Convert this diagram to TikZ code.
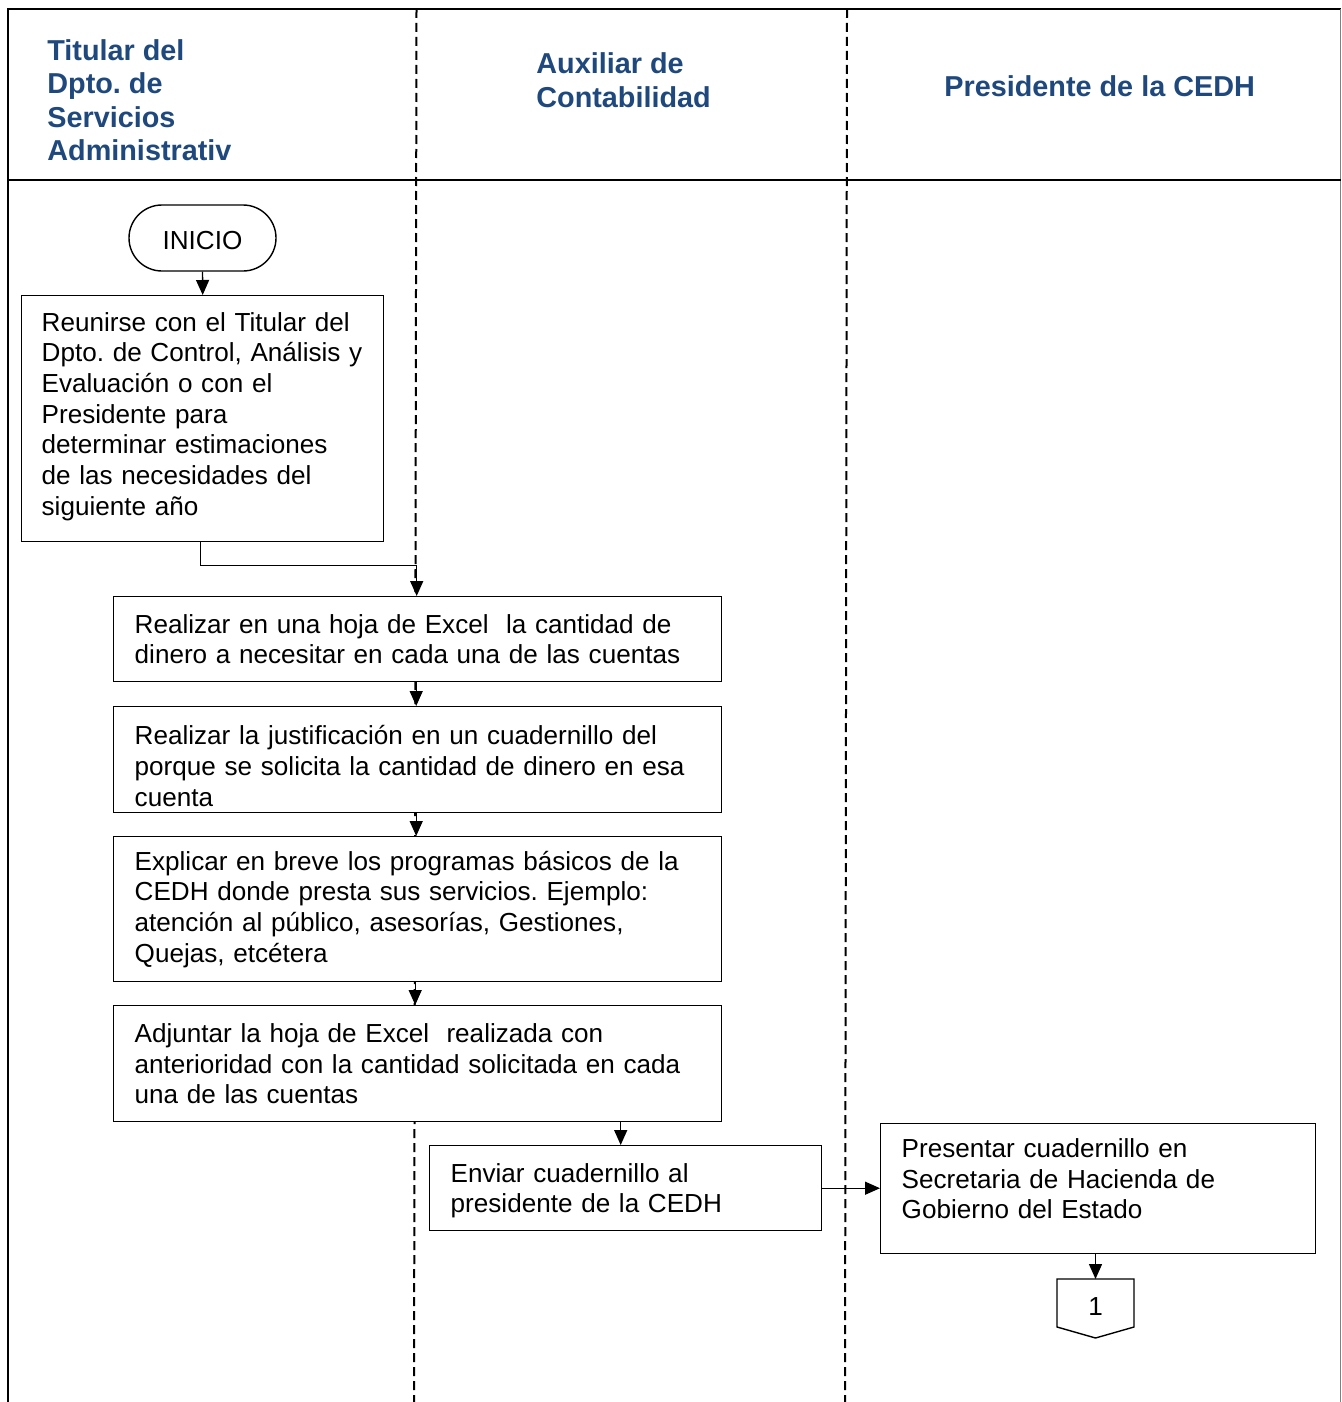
\documentclass[tikz,border=0pt]{standalone}
\usepackage{fontspec}
\setmainfont{Liberation Sans}
\frenchspacing
\usetikzlibrary{arrows.meta,calc}
\definecolor{headblue}{RGB}{31,73,125}
\def\U{0.5pt}
\tikzset{
  lane/.style={line width=1pt},
  divider/.style={line width=1pt, dash pattern=on 4.5pt off 2.5pt},
  stepbox/.style={draw, line width=0.7pt, fill=white, anchor=north west, align=left,
    inner xsep=21*\U, inner ysep=0pt,
    font=\fontsize{13.05}{15.35}\selectfont},
  head/.style={anchor=west, align=left, inner sep=0pt, text=headblue,
    font=\bfseries\fontsize{14.4}{16.75}\selectfont},
  flow/.style={line width=0.7pt, -{Triangle[length=7.5pt,width=6.5pt]}},
}
\begin{document}
\begin{tikzpicture}[x=0.5pt,y=-0.5pt]
\useasboundingbox (0,0) rectangle (1341,1402);
% swimlane frame
\draw[lane] (1341,9) -- (8,9) -- (8,1402);
\draw[line width=0.4pt, gray] (1340,9) -- (1340,1402);
\draw[lane] (8,180) -- (1341,180);
\draw[divider] (416.5,9) -- (414,1402);
\draw[divider] (847,9) -- (845,1402);
% lane headings
\node[head] (h1) at (47,100) {Titular del\\Dpto. de\\Servicios\\Administrativ};
\node[head] (h2) at (536,80) {Auxiliar de\\Contabilidad};
\node[head] (h3) at (944,86) {Presidente de la CEDH};
% start
\node[draw, line width=0.7pt, rounded corners=33*\U, minimum width=147*\U, minimum height=66*\U,
  inner sep=0pt, font=\fontsize{13.05}{15.35}\selectfont] (start) at (202.5,238) {\rule{0pt}{11.4pt}INICIO};
% process steps
\node[stepbox, inner xsep=20*\U, text width=322*\U, minimum height=246*\U] (b1) at (21,295)
  {Reunirse con el Titular del\\\mbox{Dpto. de Control, Análisis y}\\Evaluación o con el\\Presidente para\\determinar estimaciones\\de las necesidades del\\siguiente año\rule[-5pt]{0pt}{5pt}};
\node[stepbox, text width=566*\U, minimum height=85*\U] (b2) at (113,596)
  {Realizar en una hoja de Excel\ \ la cantidad de\\dinero a necesitar en cada una de las cuentas};
\node[stepbox, text width=566*\U, minimum height=106*\U] (b3) at (113,706)
  {\rule{0pt}{16pt}Realizar la justificación en un cuadernillo del\\porque se solicita la cantidad de dinero en esa\\cuenta};
\node[stepbox, text width=566*\U, minimum height=145*\U] (b4) at (113,836)
  {Explicar en breve los programas básicos de la\\CEDH donde presta sus servicios. Ejemplo:\\atención al público, asesorías, Gestiones,\\Quejas, etcétera};
\node[stepbox, text width=566*\U, minimum height=116*\U] (b5) at (113,1005)
  {Adjuntar la hoja de Excel\ \ realizada con\\anterioridad con la cantidad solicitada en cada\\una de las cuentas};
\node[stepbox, text width=350*\U, minimum height=85*\U] (b6) at (429,1145)
  {\rule{0pt}{12pt}Enviar cuadernillo al\\presidente de la CEDH};
\node[stepbox, text width=393*\U, minimum height=130*\U] (b7) at (880,1123)
  {Presentar cuadernillo en\\Secretaria de Hacienda de\\Gobierno del Estado\rule[-10pt]{0pt}{10pt}};
% off-page connector
\node[inner sep=0pt, font=\fontsize{13.05}{15.35}\selectfont] (c1) at (1095.5,1307) {1};
\coordinate (c1top) at ($(c1.center)+(0,-28)$);
\draw[line width=0.7pt] ($(c1.center)+(-38.5,20)$) -- ($(c1.center)+(-38.5,-28)$)
  -- ($(c1.center)+(38.5,-28)$) -- ($(c1.center)+(38.5,20)$) -- ($(c1.center)+(0,31)$) -- cycle;
% connectors
\draw[flow] (start.south) -- (b1.north);
\draw[flow] ([xshift=-2*\U]b1.south) -- ++(0,23) -| ([xshift=-1*\U]b2.north);
\draw[flow] ([xshift=-1.5*\U]b2.south) -- ([xshift=-1.5*\U]b3.north);
\draw[flow] ([xshift=-1.5*\U]b3.south) -- ([xshift=-1.5*\U]b4.north);
\draw[flow] ([xshift=-2.5*\U]b4.south) -- ([xshift=-2.5*\U]b5.north);
\draw[flow] ([xshift=-5*\U]b6.north |- b5.south) -- ([xshift=-5*\U]b6.north);
\draw[flow] (b6.east) -- (b7.west |- b6.east);
\draw[flow] (b7.south -| c1top) -- (c1top);
\end{tikzpicture}
\end{document}
